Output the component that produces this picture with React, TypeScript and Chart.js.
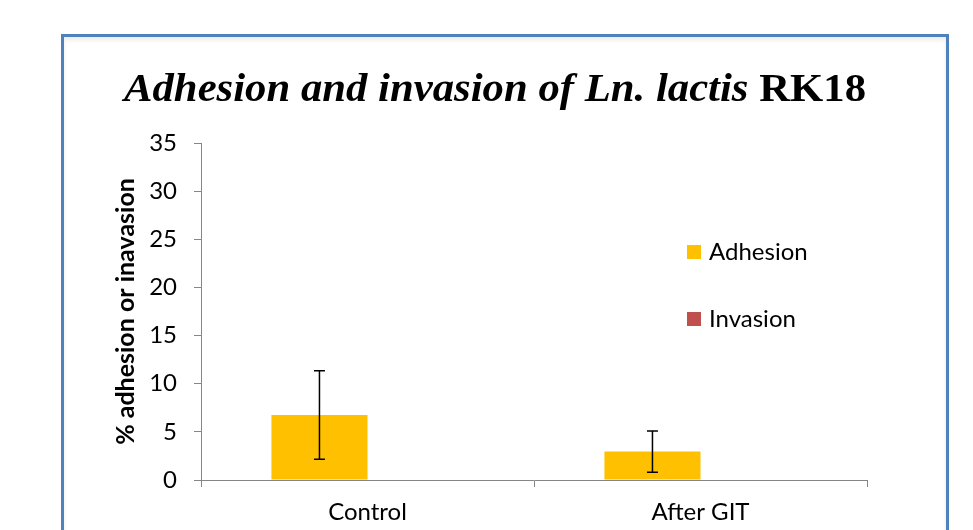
import React, { useEffect, useRef } from "react";
import { Chart, registerables } from "chart.js";

Chart.register(...registerables);

const categories = ["Control", "After GIT"];
const seriesLabels = ["Adhesion", "Invasion"];
const adhesion = [6.75, 2.95];
const adhesionErr = [4.6, 2.15];
const invasion = [0, 0];
const invasionErr = [0, 0];
const seriesColors = ["#FFC000", "#C0504D"];
const yMin = 0;
const yMax = 35;
const yStep = 5;
const titleItalic = "Adhesion and invasion of Ln. lactis";
const titleBold = "RK18";
const yTitle = "% adhesion or inavasion";

const errorBarPlugin = {
  id: "errorBars",
  afterDatasetsDraw(chart: any) {
    const ctx = chart.ctx;
    const yScale = chart.scales.y;
    chart.data.datasets.forEach((ds: any, i: number) => {
      const errs: number[] = ds.errors || [];
      const meta = chart.getDatasetMeta(i);
      meta.data.forEach((el: any, j: number) => {
        const v = ds.data[j];
        const e = errs[j];
        if (!e) return;
        const x = el.x;
        const yTop = yScale.getPixelForValue(v + e);
        const yBot = yScale.getPixelForValue(v - e);
        ctx.save();
        ctx.strokeStyle = "#000";
        ctx.lineWidth = 1.5;
        ctx.beginPath();
        ctx.moveTo(x, yTop);
        ctx.lineTo(x, yBot);
        ctx.moveTo(x - 5.5, yTop);
        ctx.lineTo(x + 5.5, yTop);
        ctx.moveTo(x - 5.5, yBot);
        ctx.lineTo(x + 5.5, yBot);
        ctx.stroke();
        ctx.restore();
      });
    });
  },
};

const titlePlugin = {
  id: "mixedTitle",
  afterDraw(chart: any) {
    const ctx = chart.ctx;
    const left = 124;
    const right = 866;
    const baseline = 101;
    const italicFont = "italic bold 41px 'Liberation Serif', 'Times New Roman', serif";
    const boldFont = "bold 41px 'Liberation Serif', 'Times New Roman', serif";
    ctx.save();
    ctx.font = italicFont;
    const w1 = ctx.measureText(titleItalic + " ").width;
    ctx.font = boldFont;
    const w2 = ctx.measureText(titleBold).width;
    const sx = (right - left) / (w1 + w2);
    ctx.translate(left, baseline);
    ctx.scale(sx, 1);
    ctx.fillStyle = "#000";
    ctx.textBaseline = "alphabetic";
    ctx.textAlign = "left";
    ctx.font = italicFont;
    ctx.fillText(titleItalic + " ", 0, 0);
    ctx.font = boldFont;
    ctx.fillText(titleBold, w1, 0);
    ctx.restore();
  },
};

const legendPlugin = {
  id: "customLegend",
  afterDraw(chart: any) {
    const ctx = chart.ctx;
    const x0 = 687;
    const yStart = 252;
    const gap = 67;
    ctx.save();
    chart.data.datasets.forEach((ds: any, i: number) => {
      const cy = yStart + i * gap;
      ctx.fillStyle = ds.backgroundColor;
      ctx.fillRect(x0, cy - 7, 14, 14);
      ctx.fillStyle = "#000";
      ctx.font = "24px Lato, 'Open Sans', sans-serif";
      ctx.textBaseline = "middle";
      ctx.textAlign = "left";
      ctx.fillText(ds.label, x0 + 22, cy);
    });
    ctx.restore();
  },
};

export default function App() {
  const canvasRef = useRef<HTMLCanvasElement | null>(null);

  useEffect(() => {
    const canvas = canvasRef.current;
    if (!canvas) return;
    const chart = new Chart(canvas, {
      type: "bar",
      data: {
        labels: categories,
        datasets: [
          {
            label: seriesLabels[0],
            data: adhesion,
            errors: adhesionErr,
            backgroundColor: seriesColors[0],
            categoryPercentage: 0.577,
            barPercentage: 1.0,
          } as any,
          {
            label: seriesLabels[1],
            data: invasion,
            errors: invasionErr,
            backgroundColor: seriesColors[1],
            categoryPercentage: 0.577,
            barPercentage: 1.0,
          } as any,
        ],
      },
      options: {
        responsive: false,
        animation: false,
        devicePixelRatio: 1,
        layout: { padding: { left: 0, right: 106, top: 143, bottom: 0 } },
        plugins: {
          legend: { display: false },
          title: { display: false },
          tooltip: { enabled: false },
        },
        scales: {
          x: {
            grid: {
              drawOnChartArea: false,
              drawTicks: true,
              tickLength: 7,
              offset: true,
              color: "#868686",
            },
            border: { color: "#868686", width: 1 },
            ticks: {
              font: { family: "Lato", size: 24 },
              color: "#000",
              padding: 11,
            },
            afterFit: (s: any) => {
              s.height = 50;
            },
          },
          y: {
            min: yMin,
            max: yMax,
            ticks: {
              stepSize: yStep,
              font: { family: "Lato", size: 24 },
              color: "#000",
              padding: 17,
            },
            grid: {
              drawOnChartArea: false,
              drawTicks: true,
              tickLength: 7,
              color: "#868686",
            },
            border: { color: "#868686", width: 1 },
            title: {
              display: true,
              text: yTitle,
              color: "#000",
              font: { family: "Lato", size: 25, weight: "bold" },
              padding: { top: 111, bottom: 0 },
            },
            afterFit: (s: any) => {
              s.width = 201;
            },
          },
        },
      } as any,
      plugins: [errorBarPlugin, titlePlugin, legendPlugin],
    });
    return () => chart.destroy();
  }, []);

  return (
    <div
      style={{
        position: "fixed",
        left: 0,
        top: 0,
        width: 973,
        height: 530,
        overflow: "hidden",
        background: "#fff",
      }}
    >
      <div
        style={{
          position: "absolute",
          left: 61,
          top: 34,
          width: 888,
          height: 620,
          boxSizing: "border-box",
          border: "3px solid #4F81BD",
          boxShadow: "inset 0 3px 4px rgba(0,0,0,0.08)",
          background: "#fff",
        }}
      />
      <canvas
        ref={canvasRef}
        width={973}
        height={530}
        style={{ position: "absolute", left: 0, top: 0, display: "block" }}
      />
    </div>
  );
}
